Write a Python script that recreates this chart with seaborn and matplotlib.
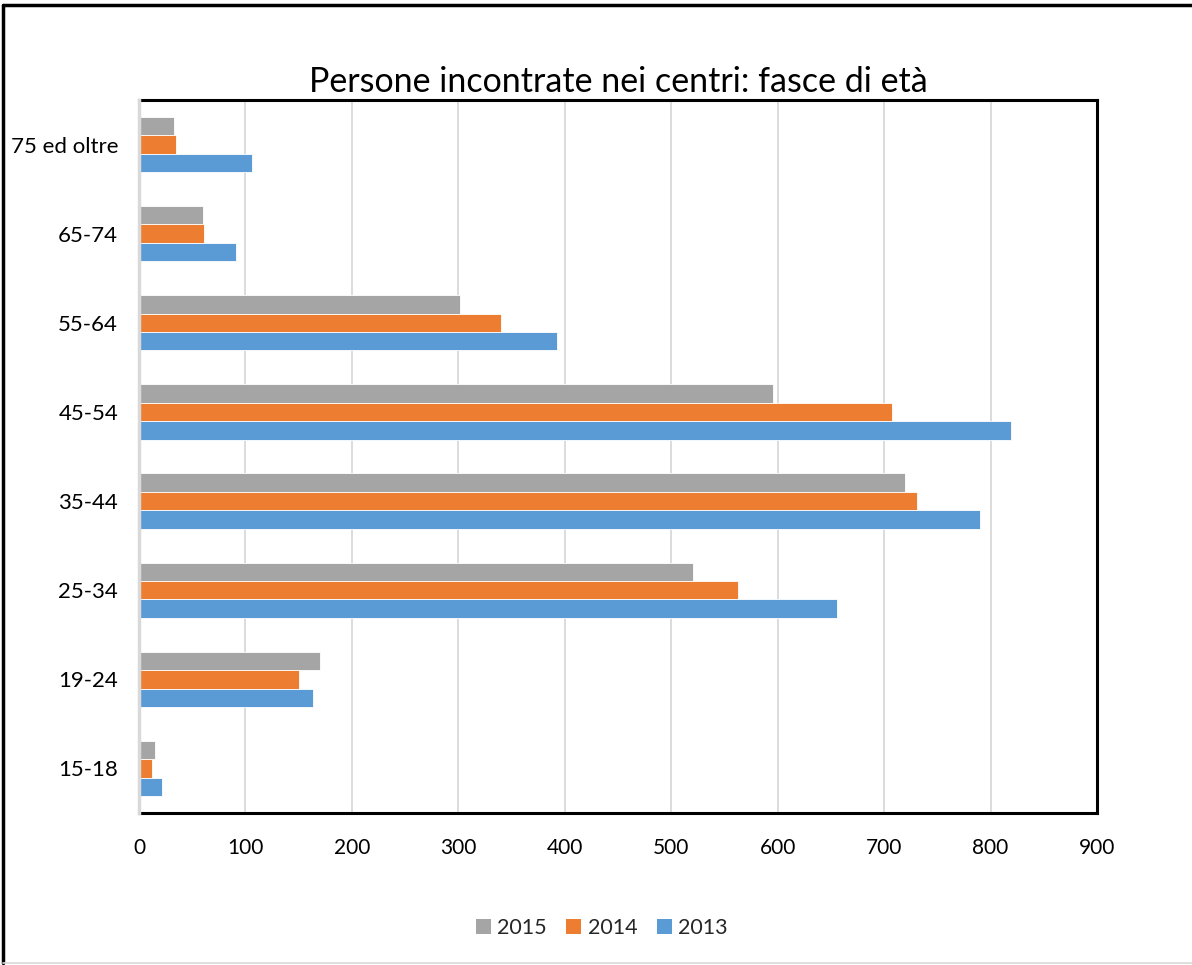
import numpy as np
import pandas as pd
import matplotlib.pyplot as plt
import seaborn as sns
from matplotlib.lines import Line2D

# Dati (persone per fascia di età)
fasce = ["75 ed oltre", "65-74", "55-64", "45-54", "35-44", "25-34", "19-24", "15-18"]
anni = ["2015", "2014", "2013"]
v2015 = [33, 60, 302, 596, 720, 520, 170, 15]
v2014 = [35, 61, 340, 707, 731, 563, 150, 12]
v2013 = [106, 91, 393, 819, 790, 656, 163, 22]
colori = ["#A5A5A5", "#ED7D31", "#5B9BD5"]

df = pd.DataFrame({
    "fascia": fasce * 3,
    "anno": [a for a in anni for _ in fasce],
    "persone": v2015 + v2014 + v2013,
})

sns.set_theme(style="white")
plt.rcParams["font.family"] = ["Lato", "DejaVu Sans"]

fig = plt.figure(figsize=(11.92, 9.65), dpi=100)
ax = fig.add_axes([139 / 1192, 1 - 813 / 965, (1097 - 139) / 1192, (813 - 100) / 965])

sns.barplot(data=df, y="fascia", x="persone", hue="anno", order=fasce,
            hue_order=anni, palette=colori, saturation=1, orient="h", width=0.62,
            gap=0, edgecolor="white", linewidth=0.6, ax=ax)

ax.set_xlim(0, 900)
ax.set_xticks(range(0, 1000, 100))
ax.grid(axis="x", color="#D9D9D9", linewidth=1.3)
ax.set_axisbelow(True)
ax.set_xlabel("")
ax.set_ylabel("")
ax.tick_params(axis="x", labelsize=15, pad=18, length=0, colors="black")
ax.tick_params(axis="y", labelsize=16, pad=15, length=0, colors="black")

for s in ["top", "right", "bottom"]:
    ax.spines[s].set_color("black")
    ax.spines[s].set_linewidth(2.2)
ax.spines["left"].set_color("#D9D9D9")
ax.spines["left"].set_linewidth(2.5)
ax.spines["left"].set_zorder(5)

ax.set_title("Persone incontrate nei centri: fasce di età", fontsize=24.5, pad=6,
             color="black")

h, l = ax.get_legend_handles_labels()
ax.legend(h, l, loc="center", bbox_to_anchor=(602 / 1192, 1 - 928 / 965),
          bbox_transform=fig.transFigure, ncol=3, frameon=False, fontsize=15.5,
          handlelength=0.7, handleheight=0.7, handletextpad=0.3, columnspacing=0.9)
for p in ax.get_legend().get_patches():
    p.set_edgecolor("none")

# cornice della figura (visibile in alto e a sinistra)
fig.add_artist(Line2D([3 / 1192, 1], [1 - 5 / 965, 1 - 5 / 965], color="black", lw=2.5,
                      transform=fig.transFigure))
fig.add_artist(Line2D([3 / 1192, 3 / 1192], [1 - 963 / 965, 1 - 5 / 965], color="black",
                      lw=2.5, transform=fig.transFigure))
fig.add_artist(Line2D([3 / 1192, 1], [1 - 963 / 965, 1 - 963 / 965], color="#D9D9D9",
                      lw=1.2, transform=fig.transFigure))

fig.savefig("out.png", dpi=100, facecolor="white")
